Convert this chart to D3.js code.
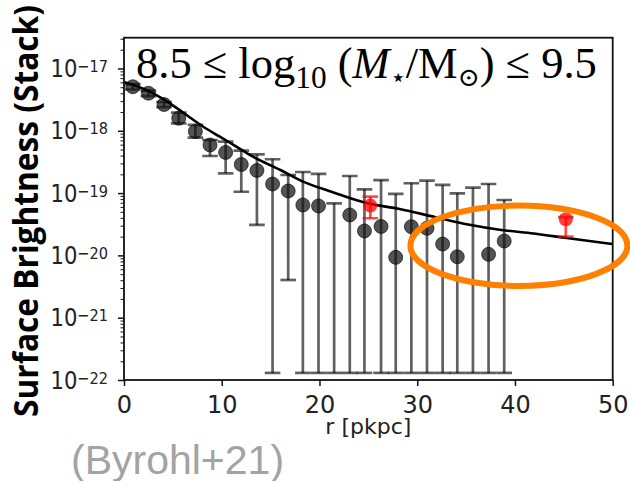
<!DOCTYPE html>
<html><head><meta charset="utf-8">
<script src="https://cdn.jsdelivr.net/npm/d3@7"></script>
<style>body{margin:0;background:#fff} svg{display:block}</style>
</head><body>
<svg id="chart" width="630" height="481"></svg>
<script>
// ---- data ----
const radius     = [0.9, 2.5, 4.1, 5.6, 7.3, 8.8, 10.4, 12.0, 13.6, 15.2, 16.8, 18.3, 19.9, 21.5, 23.1, 24.6, 26.3, 27.8, 29.4, 31.0, 32.6, 34.1, 35.7, 37.3, 38.9];
const stackMean  = [5.1e-18, 4.0e-18, 2.64e-18, 1.59e-18, 9.75e-19, 5.92e-19, 4.49e-19, 2.88e-19, 2.31e-19, 1.40e-19, 1.08e-19, 6.44e-20, 6.21e-20, null, 4.45e-20, 2.47e-20, 2.91e-20, 9.3e-21, 2.89e-20, 2.72e-20, 1.52e-20, 9.5e-21, null, 1.04e-20, 1.70e-20];
const stackUpper = [5.6e-18, 4.4e-18, 2.9e-18, 1.95e-18, 1.24e-18, 7.11e-19, 6.68e-19, 4.80e-19, 4.17e-19, 3.49e-19, 1.95e-19, 2.18e-19, 2.03e-19, 6.85e-20, 1.88e-19, 1.15e-19, 1.62e-19, 9.7e-20, 1.44e-19, 1.58e-19, 1.35e-19, 9.9e-20, 1.22e-19, 1.40e-19, 7.74e-20];
const stackLower = [4.6e-18, 3.6e-18, 2.4e-18, 1.32e-18, 7.74e-19, 3.94e-19, 2.08e-19, 1.05e-19, 3.08e-20, 1.3e-22, 4.03e-21, 1.3e-22, 1.3e-22, 1.3e-22, 1.3e-22, 1.3e-22, 1.3e-22, 1.3e-22, 1.3e-22, 1.3e-22, 1.3e-22, 1.3e-22, 1.3e-22, 1.3e-22, 1.3e-22];

const obsRadius = [25.2, 45.2];
const obsMean   = [6.3e-20, 3.8e-20];
const obsUpper  = [8.75e-20, 4.1e-20];
const obsLower  = [3.95e-20, 2.0e-20];

const modelRadius = [0, 3.0, 4.7, 6.4, 8.1, 9.8, 11.5, 13.2, 16.0, 18.2, 21.3, 24.8, 28.2, 31.8, 35.2, 38.6, 41.9, 45.3, 50.0];
const modelSB     = [6.07e-18, 4.0e-18, 2.76e-18, 1.79e-18, 1.16e-18, 8.04e-19, 5.56e-19, 3.84e-19, 2.35e-19, 1.56e-19, 1.04e-19, 6.93e-20, 5.56e-20, 4.13e-20, 3.13e-20, 2.56e-20, 2.24e-20, 1.90e-20, 1.52e-20];

const xTicks = [0, 10, 20, 30, 40, 50];
const yTicks = [1e-22, 1e-21, 1e-20, 1e-19, 1e-18, 1e-17];
const yTickExp = ["−22", "−21", "−20", "−19", "−18", "−17"];

// highlight ellipse (data coords): centre r, centre SB, half-width in r, half-height in dex
const ellipseSpec = [40.4, 1.43e-20, 11.1, 0.645];

// ---- layout ----
const svg = d3.select("#chart");
const L = 124, R = 612.7, T = 37.7, B = 380;
const x = d3.scaleLinear().domain([0, 50]).range([L, R]);
const y = d3.scaleLog().domain([1e-22, 3.12e-17]).range([B, T]);

svg.append("defs").append("clipPath").attr("id", "clip")
  .append("rect").attr("x", L).attr("y", T).attr("width", R - L).attr("height", B - T);

const plot = svg.append("g").attr("clip-path", "url(#clip)");

// error bars for stack points
const capW = 7.8;
const eb = plot.append("g").attr("stroke", "#000").attr("stroke-opacity", 0.62).attr("stroke-width", 2.7);
radius.forEach((r, i) => {
  const cx = x(r), yu = y(stackUpper[i]), yl = y(stackLower[i]);
  eb.append("line").attr("x1", cx).attr("x2", cx).attr("y1", yu).attr("y2", yl);
  eb.append("line").attr("x1", cx - capW).attr("x2", cx + capW).attr("y1", yu).attr("y2", yu);
  eb.append("line").attr("x1", cx - capW).attr("x2", cx + capW).attr("y1", yl).attr("y2", yl);
});
plot.append("g").selectAll("circle")
  .data(radius.map((r, i) => [r, stackMean[i]]).filter(d => d[1] !== null))
  .join("circle")
  .attr("cx", d => x(d[0])).attr("cy", d => y(d[1])).attr("r", 7)
  .attr("fill", "#111").attr("fill-opacity", 0.72)
  .attr("stroke", "#000").attr("stroke-opacity", 0.6).attr("stroke-width", 1);

// model curve
plot.append("path")
  .datum(modelRadius.map((r, i) => [r, modelSB[i]]))
  .attr("fill", "none").attr("stroke", "#000").attr("stroke-width", 2.6)
  .attr("d", d3.line().x(d => x(d[0])).y(d => y(d[1])).curve(d3.curveMonotoneX));

// observed (red) points
const rb = plot.append("g").attr("stroke", "#ff0000").attr("stroke-opacity", 0.7).attr("stroke-width", 2.7);
obsRadius.forEach((r, i) => {
  const cx = x(r), yu = y(obsUpper[i]), yl = y(obsLower[i]);
  rb.append("line").attr("x1", cx).attr("x2", cx).attr("y1", yu).attr("y2", yl);
  rb.append("line").attr("x1", cx - capW).attr("x2", cx + capW).attr("y1", yu).attr("y2", yu);
  rb.append("line").attr("x1", cx - capW).attr("x2", cx + capW).attr("y1", yl).attr("y2", yl);
});
plot.append("g").selectAll("circle")
  .data(obsRadius.map((r, i) => [r, obsMean[i]]))
  .join("circle")
  .attr("cx", d => x(d[0])).attr("cy", d => y(d[1])).attr("r", 7)
  .attr("fill", "#ff0000").attr("fill-opacity", 0.75);

// axes
const tickFont = "DejaVu Sans, sans-serif";
const xAxis = svg.append("g").attr("transform", `translate(0,${B})`)
  .call(d3.axisBottom(x).tickValues(xTicks).tickSize(6).tickPadding(4).tickSizeOuter(0));
xAxis.select(".domain").remove();
xAxis.selectAll(".tick line").attr("stroke", "#111").attr("stroke-width", 1.5);
xAxis.selectAll(".tick text").attr("font-family", tickFont).attr("font-size", 24).attr("fill", "#222")
  .attr("dy", null).attr("y", 32.7);

const yAxis = svg.append("g").attr("transform", `translate(${L},0)`)
  .call(d3.axisLeft(y).tickValues(yTicks).tickSize(6).tickFormat(""));
yAxis.select(".domain").remove();
yAxis.selectAll(".tick line").attr("stroke", "#111").attr("stroke-width", 1.5);
yAxis.selectAll(".tick text").remove();

const minorTicks = y.ticks().filter(v => Math.abs(Math.log10(v) - Math.round(Math.log10(v))) > 1e-6);
const yMinor = svg.append("g").attr("transform", `translate(${L},0)`)
  .call(d3.axisLeft(y).tickValues(minorTicks).tickSize(3.5).tickFormat(""));
yMinor.select(".domain").remove();
yMinor.selectAll(".tick line").attr("stroke", "#111").attr("stroke-width", 1);

yTicks.forEach((v, i) => {
  const g = svg.append("g").attr("transform", `translate(${L - 16},${y(v) + 8.7}) scale(0.88,1)`);
  const t = g.append("text").attr("text-anchor", "end").attr("font-family", tickFont).attr("fill", "#222");
  t.append("tspan").attr("font-size", 24).text("10");
  t.append("tspan").attr("font-size", 16.5).attr("dy", -5).text(yTickExp[i]);
});

// frame
svg.append("rect").attr("x", L).attr("y", T).attr("width", R - L).attr("height", B - T)
  .attr("fill", "none").attr("stroke", "#111").attr("stroke-width", 1.8);

// axis labels
svg.append("text").attr("x", (L + R) / 2).attr("y", 434).attr("text-anchor", "middle")
  .attr("font-family", tickFont).attr("font-size", 22).attr("fill", "#222").text("r [pkpc]");

svg.append("text").attr("transform", "translate(38,211) rotate(-90)")
  .attr("text-anchor", "middle").attr("font-family", "Open Sans, sans-serif").attr("font-weight", 700)
  .attr("font-size", 34).attr("fill", "#000")
  .attr("textLength", 412).attr("lengthAdjust", "spacingAndGlyphs")
  .text("Surface Brightness (Stack)");

// title annotation (math)
const tg = svg.append("g");
const title = tg.append("text").attr("font-family", "Liberation Serif, DejaVu Serif, serif")
  .attr("font-size", 44).attr("fill", "#000");
title.append("tspan").text("8.5 ≤ log");
title.append("tspan").attr("font-size", 31).attr("dy", 10).text("10");
title.append("tspan").attr("dy", -10).text(" (");
title.append("tspan").attr("font-style", "italic").text("M");
title.append("tspan").attr("font-size", 26).attr("dy", 8).text("⋆");
title.append("tspan").attr("dy", -8).text("/M");
title.append("tspan").attr("font-size", 26).attr("dy", 8).text("⊙");
title.append("tspan").attr("dy", -8).text(") ≤ 9.5");
const bb = title.node().getBBox();
const sx = 461 / bb.width;
tg.attr("transform", `translate(${136 - bb.x * sx},78) scale(${sx},1)`);

// orange highlight ellipse
const [ecR, ecV, ehw, ehh] = ellipseSpec;
const ecx = x(ecR), ecy = y(ecV);
svg.append("ellipse").attr("cx", ecx).attr("cy", ecy)
  .attr("rx", x(ecR + ehw) - ecx).attr("ry", ecy - y(ecV * Math.pow(10, ehh)))
  .attr("fill", "none").attr("stroke", "#ff8000").attr("stroke-width", 6);

// credit
svg.append("text").attr("x", 71).attr("y", 474).attr("font-family", "Liberation Sans, Arial, sans-serif")
  .attr("font-size", 41).attr("fill", "#a3a3a3").text("(Byrohl+21)");
</script>
</body></html>
